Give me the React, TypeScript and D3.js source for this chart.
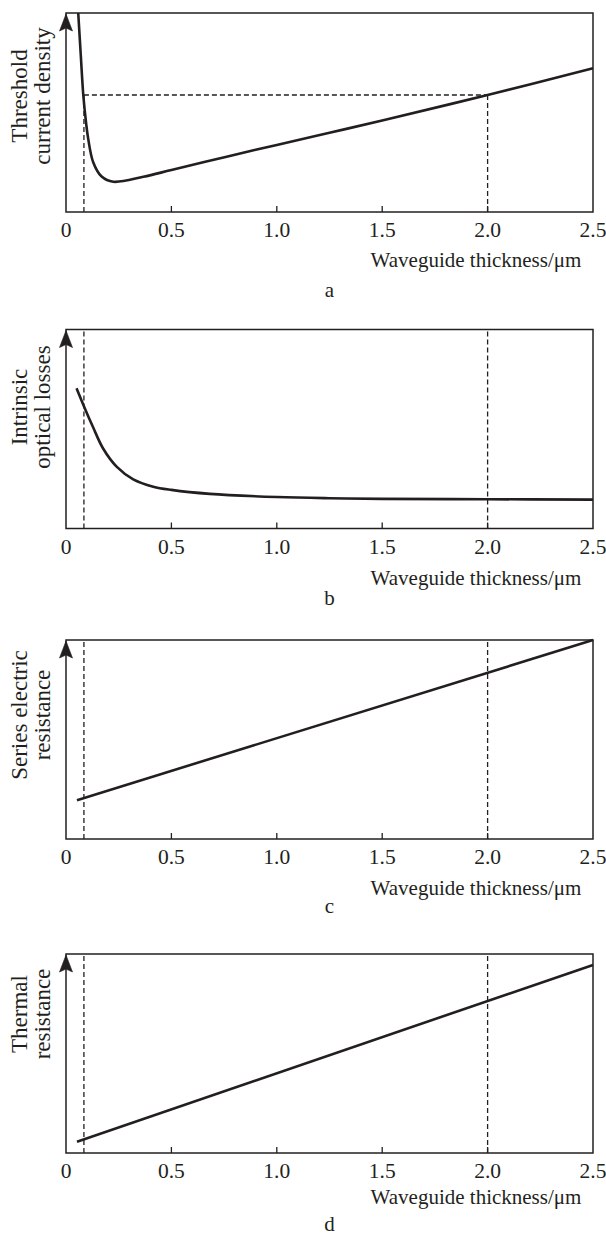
import * as d3 from 'd3';
import React, { useRef, useEffect } from 'react';

// x axis: waveguide thickness in um
const thicknessTicks = [0, 0.5, 1.0, 1.5, 2.0, 2.5];
const tickLabels = ['0', '0.5', '1.0', '1.5', '2.0', '2.5'];
const markerLow = 0.085;
const markerHigh = 2.0;

// a: threshold current density (arb. units)
const thicknessA = [0.058, 0.07, 0.082, 0.095, 0.105, 0.129, 0.169, 0.224, 0.367, 0.5, 0.762, 1.0, 1.25, 1.5, 2.0, 2.5];
const thresholdCurrent = [1.0, 0.79, 0.588, 0.45, 0.37, 0.25, 0.178, 0.152, 0.177, 0.211, 0.278, 0.337, 0.398, 0.46, 0.588, 0.722];
const thresholdLevel = 0.588;

// b: intrinsic optical losses
const thicknessB = [0.05, 0.09, 0.128, 0.176, 0.24, 0.319, 0.414, 0.5, 0.682, 1.0, 1.25, 1.5, 2.0, 2.5];
const opticalLosses = [0.705, 0.602, 0.51, 0.402, 0.311, 0.247, 0.21, 0.194, 0.174, 0.158, 0.152, 0.149, 0.147, 0.145];

// c: series electric resistance
const thicknessC = [0.052, 2.5];
const seriesResistance = [0.195, 1.0];

// d: thermal resistance
const thicknessD = [0.052, 2.5];
const thermalResistance = [0.057, 0.945];

const xTitle = 'Waveguide thickness/\u03bcm';
const ink = '#231f20';
const font = '"Liberation Serif", "Times New Roman", serif';

function App() {
    const ref = useRef<SVGSVGElement>(null);

    useEffect(() => {
        const svg = d3.select(ref.current);
        svg.selectAll('*').remove();

        const left = 66, right = 593, plotH = 199;
        const x = d3.scaleLinear().domain([0, 2.5]).range([left, right]);

        const panels = [
            { top: 13, xs: thicknessA, ys: thresholdCurrent, lines: ['Threshold', 'current density'], labelY: 96, titleY: 267, letterY: 297, letter: 'a', crossing: true },
            { top: 329.5, xs: thicknessB, ys: opticalLosses, lines: ['Intrinsic', 'optical losses'], labelY: 407, titleY: 585, letterY: 605, letter: 'b', crossing: false },
            { top: 640, xs: thicknessC, ys: seriesResistance, lines: ['Series electric', 'resistance'], labelY: 715, titleY: 895, letterY: 913, letter: 'c', crossing: false },
            { top: 954, xs: thicknessD, ys: thermalResistance, lines: ['Thermal', 'resistance'], labelY: 1014, titleY: 1204, letterY: 1231, letter: 'd', crossing: false },
        ];

        panels.forEach(p => {
            const bottom = p.top + plotH;
            const y = d3.scaleLinear().domain([0, 1]).range([bottom, p.top]);
            const g = svg.append('g');

            // dashed guide lines
            const dash = (x1: number, y1: number, x2: number, y2: number) => {
                g.append('line')
                    .attr('x1', x1).attr('y1', y1).attr('x2', x2).attr('y2', y2)
                    .attr('stroke', ink).attr('stroke-width', 1.3)
                    .attr('stroke-dasharray', '5,3');
            };
            if (p.crossing) {
                dash(x(markerLow), bottom, x(markerLow), y(thresholdLevel));
                dash(x(markerLow), y(thresholdLevel), x(markerHigh), y(thresholdLevel));
                dash(x(markerHigh), y(thresholdLevel), x(markerHigh), bottom);
            } else {
                dash(x(markerLow), bottom, x(markerLow), p.top);
                dash(x(markerHigh), bottom, x(markerHigh), p.top);
            }

            // frame
            g.append('rect')
                .attr('x', left).attr('y', p.top)
                .attr('width', right - left).attr('height', plotH)
                .attr('fill', 'none').attr('stroke', ink).attr('stroke-width', 1.5);

            // inner ticks
            thicknessTicks.slice(1, -1).forEach(t => {
                g.append('line')
                    .attr('x1', x(t)).attr('x2', x(t))
                    .attr('y1', bottom).attr('y2', bottom - 6)
                    .attr('stroke', ink).attr('stroke-width', 1.3);
            });

            // tick labels
            thicknessTicks.forEach((t, i) => {
                g.append('text')
                    .attr('x', x(t)).attr('y', bottom + 25)
                    .attr('text-anchor', 'middle')
                    .attr('font-family', font).attr('font-size', 21.5)
                    .attr('fill', ink)
                    .text(tickLabels[i]);
            });

            // curve
            const pts = p.xs.map((v, i) => [v, p.ys[i]] as [number, number]);
            const line = d3.line<[number, number]>()
                .x(d => x(d[0]))
                .y(d => y(d[1]))
                .curve(d3.curveCatmullRom.alpha(0.5));
            g.append('path')
                .attr('d', line(pts))
                .attr('fill', 'none')
                .attr('stroke', ink)
                .attr('stroke-width', 2.6)
                .attr('stroke-linecap', 'butt');

            // y axis arrow head
            const tipY = p.top + 1;
            g.append('path')
                .attr('d', `M${left},${tipY} L${left + 6.5},${tipY + 17} L${left},${tipY + 14} L${left - 6.5},${tipY + 17} Z`)
                .attr('fill', ink)
                .attr('stroke', ink)
                .attr('stroke-width', 0.6)
                .attr('stroke-linejoin', 'miter');

            // y label (two lines, rotated)
            p.lines.forEach((txt, i) => {
                const bx = i === 0 ? 27 : 50;
                g.append('text')
                    .attr('transform', `translate(${bx},${p.labelY}) rotate(-90)`)
                    .attr('text-anchor', 'middle')
                    .attr('font-family', font).attr('font-size', 23)
                    .attr('fill', ink)
                    .text(txt);
            });

            // x title and panel letter
            g.append('text')
                .attr('x', 476).attr('y', p.titleY)
                .attr('text-anchor', 'middle')
                .attr('font-family', font).attr('font-size', 21)
                .attr('fill', ink)
                .text(xTitle);

            g.append('text')
                .attr('x', (left + right) / 2).attr('y', p.letterY)
                .attr('text-anchor', 'middle')
                .attr('font-family', font).attr('font-size', 21)
                .attr('fill', ink)
                .text(p.letter);
        });
    }, []);

    return (
        <svg ref={ref} width={606} height={1235}
            style={{ position: 'absolute', left: 0, top: 0, background: '#fff' }}>
        </svg>
    );
}

export default App;
